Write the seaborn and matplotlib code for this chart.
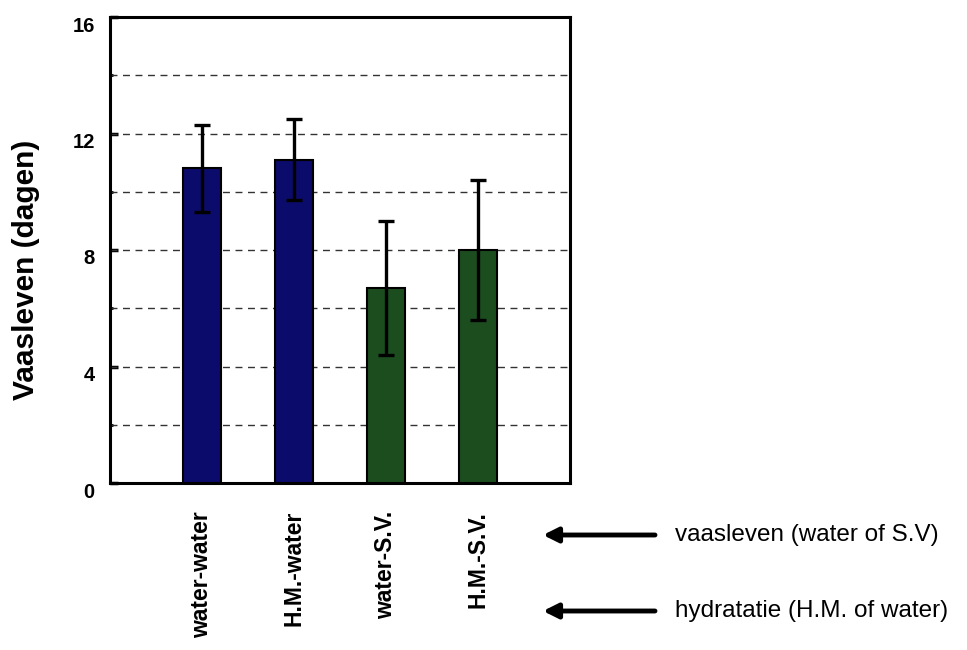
import matplotlib
matplotlib.use("Agg")
import matplotlib.pyplot as plt
import matplotlib.transforms as mtransforms
import seaborn as sns
import numpy as np
import pandas as pd

categories = ["water-water", "H.M.-water", "water-S.V.", "H.M.-S.V."]
values = [10.8, 11.1, 6.7, 8.0]
errors = [1.5, 1.4, 2.3, 2.4]
bar_colors = ["#0b0b6b", "#0b0b6b", "#1b4d1f", "#1b4d1f"]
y_major = [0, 4, 8, 12, 16]
y_minor = [2, 6, 10, 14]
ylabel = "Vaasleven (dagen)"
annot_texts = ["vaasleven (water of S.V)", "hydratatie (H.M. of water)"]

sns.set_theme(style="white")
plt.rcParams["font.family"] = ["Liberation Sans", "DejaVu Sans"]
plt.rcParams["text.color"] = "black"
plt.rcParams["axes.labelcolor"] = "black"
plt.rcParams["xtick.color"] = "black"
plt.rcParams["ytick.color"] = "black"

df = pd.DataFrame({"cat": categories, "val": values})

fig = plt.figure(figsize=(9.67, 6.5), dpi=100)
ax = fig.add_axes([110 / 967, 1 - 483 / 650, 460 / 967, 466 / 650])

sns.barplot(data=df, x="cat", y="val", hue="cat", palette=bar_colors,
            width=0.41, edgecolor="black", linewidth=1.5, legend=False,
            saturation=1, ax=ax, zorder=3)
ax.errorbar(np.arange(len(values)), values, yerr=errors, fmt="none",
            ecolor="black", elinewidth=2.4, capsize=6, capthick=2.4, zorder=4)

ax.set_xlim(-1, 4)
ax.set_ylim(0, 16)
ax.set_yticks(y_major)
ax.set_yticks(y_minor, minor=True)
ax.set_yticklabels([str(v) for v in y_major], fontsize=14.5, fontweight="bold")
for v in y_major[1:-1] + y_minor:
    ax.axhline(v, color="#333333", lw=1.0, ls=(0, (5, 4)), zorder=1)

ax.set_xticks(range(len(categories)))
ax.set_xticklabels(categories, rotation=90, fontsize=16.5, fontweight="bold")
ax.tick_params(axis="x", length=0, pad=20)
ax.tick_params(axis="y", which="major", direction="in", length=6, width=2.5, pad=11, left=True)
ax.tick_params(axis="y", which="minor", direction="in", length=2.5, width=2, left=True)
ax.set_xlabel("")
ax.set_ylabel(ylabel, fontsize=21.5, fontweight="bold")
ax.yaxis.set_label_coords(-0.152, 0.457)

for s in ax.spines.values():
    s.set_visible(True)
    s.set_color("black")
    s.set_linewidth(2.2)

for ytxt, txt in zip([535, 611], annot_texts):
    yf = 1 - ytxt / 650
    ax.annotate("", xy=(543 / 967, yf), xytext=(655 / 967, yf),
                xycoords="figure fraction", textcoords="figure fraction",
                arrowprops=dict(arrowstyle="-|>", lw=3.5, color="black",
                                mutation_scale=22, shrinkA=0, shrinkB=0))
    fig.text(675 / 967, yf, txt, fontsize=17.5, va="center", ha="left")

fig.canvas.draw()
shift = mtransforms.ScaledTranslation(0, -0.07, fig.dpi_scale_trans)
for tick in ax.yaxis.get_major_ticks():
    tick.label1.set_transform(tick.label1.get_transform() + shift)

fig.savefig("out.png", dpi=100)
